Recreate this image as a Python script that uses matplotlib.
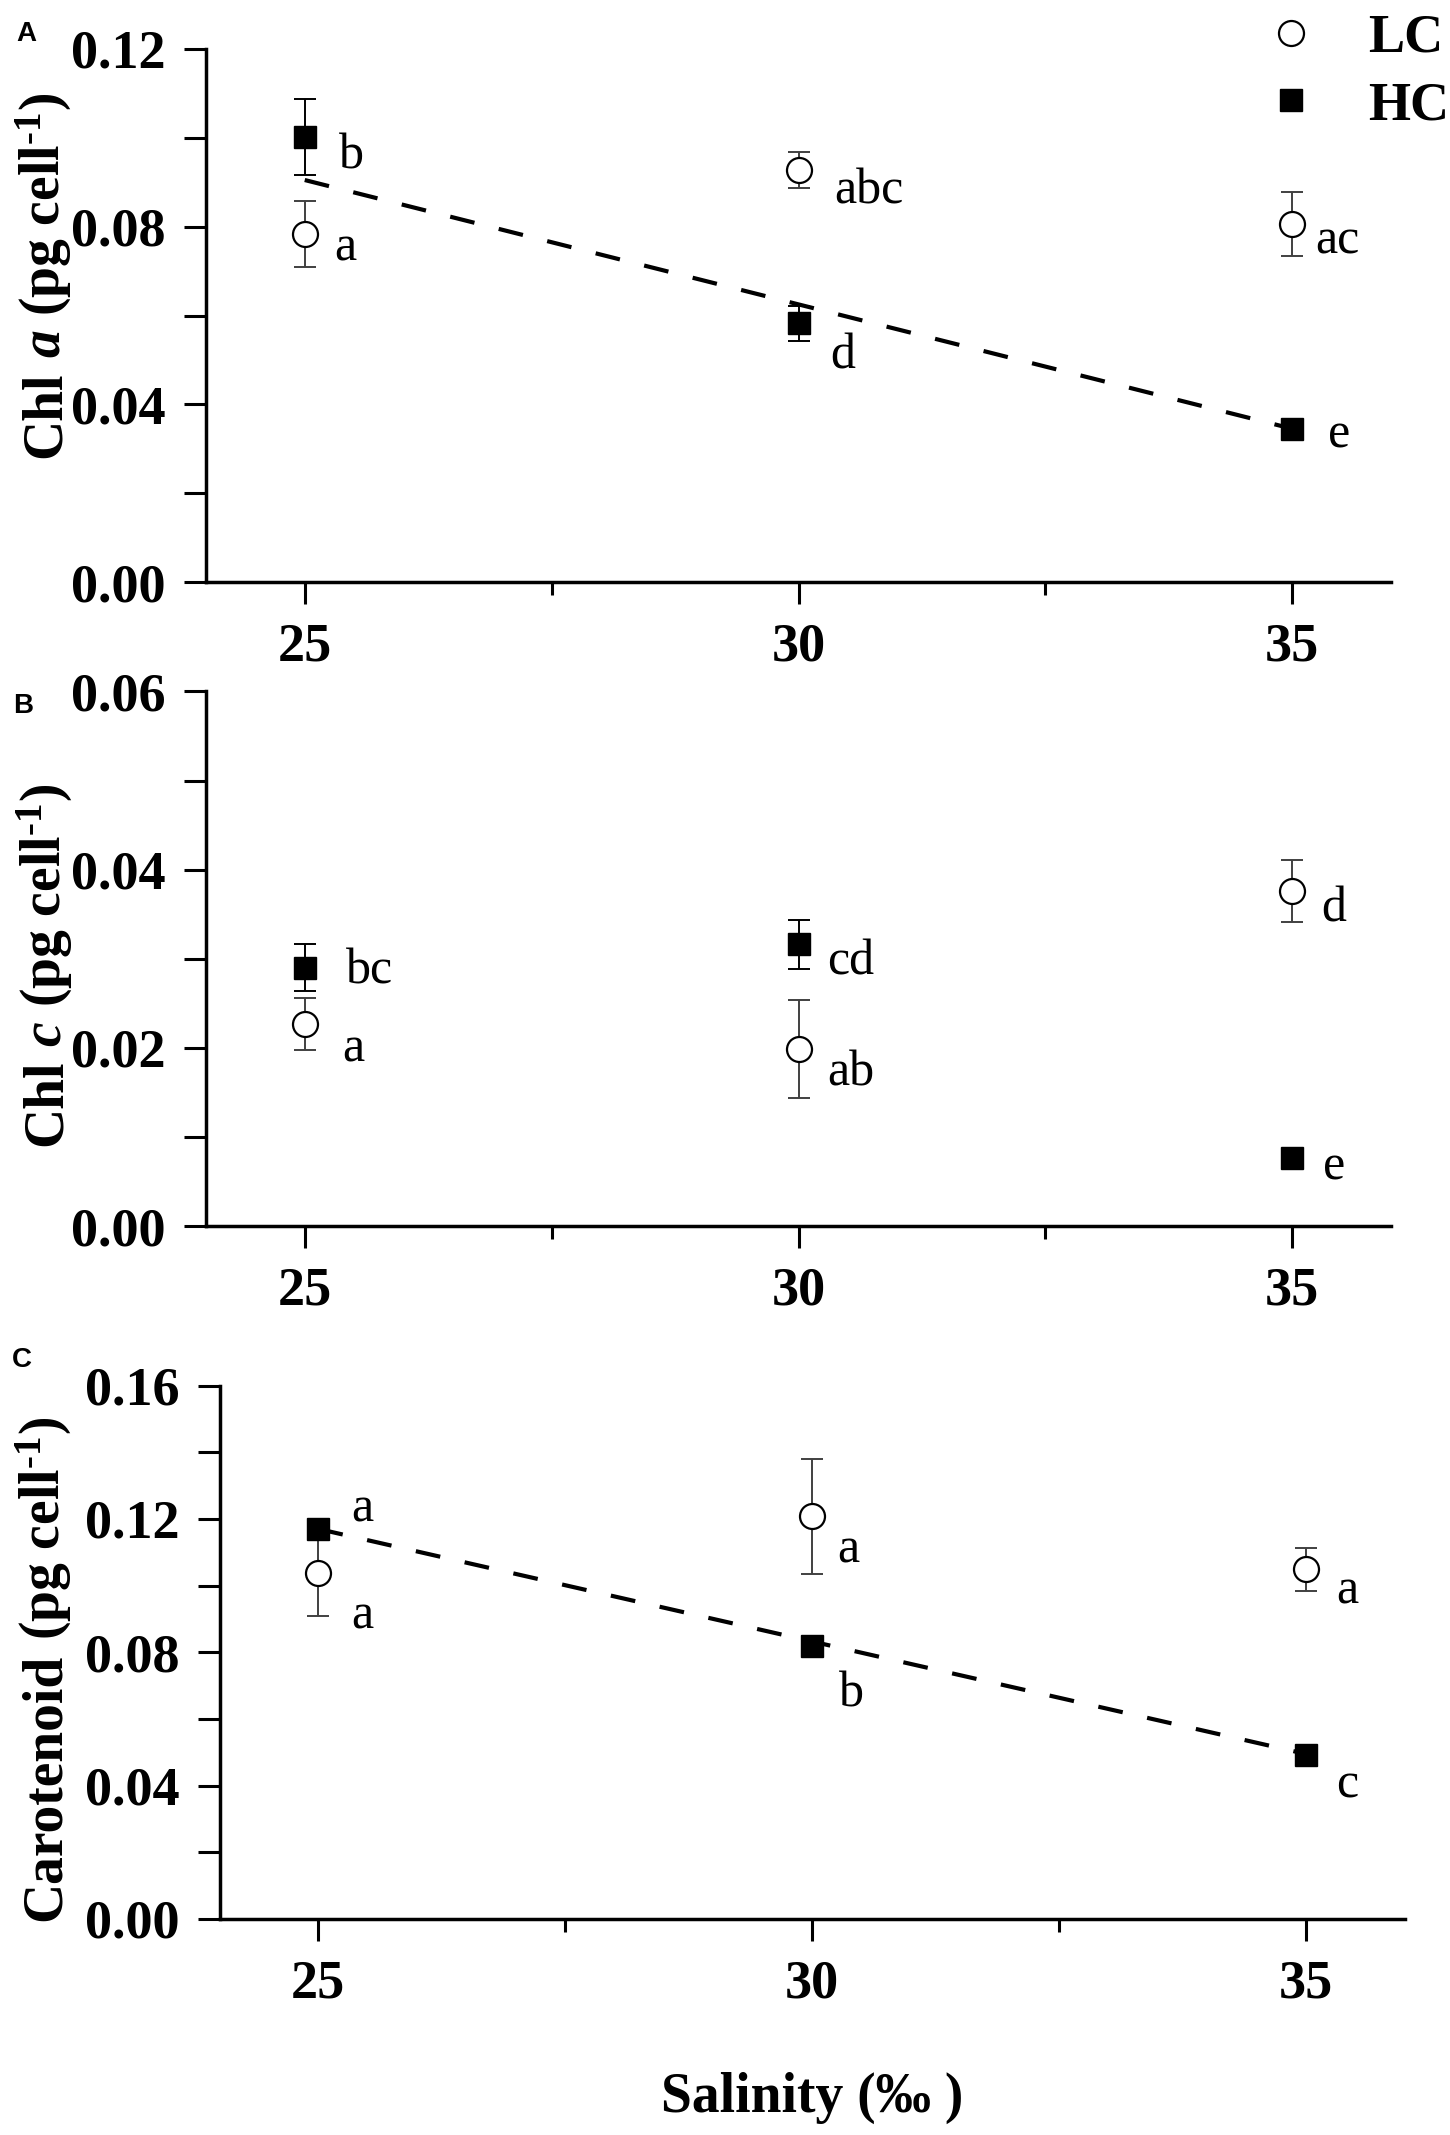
import matplotlib
matplotlib.use('Agg')
import matplotlib.pyplot as plt
from matplotlib.ticker import MultipleLocator
from matplotlib.transforms import IdentityTransform

plt.rcParams['font.family'] = 'Liberation Serif'
plt.rcParams['mathtext.fontset'] = 'custom'
plt.rcParams['mathtext.rm'] = 'Liberation Serif:bold'
plt.rcParams['mathtext.it'] = 'Liberation Serif:italic:bold'
plt.rcParams['mathtext.bf'] = 'Liberation Serif:bold'

# data
salinity = [25, 30, 35]

chla_lc = [0.0783, 0.0927, 0.0806]
chla_lc_err = [0.0074, 0.0040, 0.0072]
chla_hc = [0.1002, 0.0582, 0.0344]
chla_hc_err = [0.0085, 0.0040, 0.0010]
chla_fit = [0.0905, 0.0345]
chla_lc_letters = ['a', 'abc', 'ac']
chla_hc_letters = ['b', 'd', 'e']

chlc_lc = [0.0227, 0.0199, 0.0376]
chlc_lc_err = [0.0029, 0.0055, 0.0035]
chlc_hc = [0.0290, 0.0316, 0.0076]
chlc_hc_err = [0.0026, 0.0028, 0.0008]
chlc_lc_letters = ['a', 'ab', 'd']
chlc_hc_letters = ['bc', 'cd', 'e']

car_lc = [0.1037, 0.1208, 0.1049]
car_lc_err = [0.0129, 0.0172, 0.0065]
car_hc = [0.1171, 0.0820, 0.0493]
car_hc_err = [0.0020, 0.0015, 0.0010]
car_fit = [0.1170, 0.0495]
car_lc_letters = ['a', 'a', 'a']
car_hc_letters = ['a', 'b', 'c']

W, H = 1450, 2135
fig = plt.figure(figsize=(W / 100, H / 100), dpi=100)


def box(l, t, r, b):
    return [l / W, 1 - b / H, (r - l) / W, (b - t) / H]


def panel(ax, lc, lc_err, hc, hc_err, fit, ymax, ystep,
          lc_letters, hc_letters, lc_off, hc_off):
    if fit is not None:
        ax.plot([salinity[0], salinity[-1]], fit, color='black', lw=3,
                ls=(0, (6, 6)), zorder=1)
    ax.errorbar(salinity, lc, yerr=lc_err, fmt='none', ecolor='#404040',
                elinewidth=1.4, capsize=8, capthick=1.4, zorder=2)
    ax.errorbar(salinity, hc, yerr=hc_err, fmt='none', ecolor='black',
                elinewidth=1.4, capsize=8, capthick=1.4, zorder=2)
    l1, = ax.plot(salinity, lc, 'o', ms=18, mfc='white', mec='black',
                  mew=1.6, zorder=3, label='LC')
    l2, = ax.plot(salinity, hc, 's', ms=16, mfc='black', mec='black',
                  zorder=3, label='HC')
    for x, y, t, o in zip(salinity, lc, lc_letters, lc_off):
        ax.annotate(t, (x, y), xytext=o, textcoords='offset pixels',
                    ha='left', va='center', fontsize=36)
    for x, y, t, o in zip(salinity, hc, hc_letters, hc_off):
        ax.annotate(t, (x, y), xytext=o, textcoords='offset pixels',
                    ha='left', va='center', fontsize=36)

    ax.set_xlim(24, 36)
    ax.set_ylim(0, ymax)
    ax.set_xticks(salinity)
    ax.xaxis.set_minor_locator(MultipleLocator(2.5))
    ax.yaxis.set_major_locator(MultipleLocator(ystep))
    ax.yaxis.set_minor_locator(MultipleLocator(ystep / 2))
    ax.yaxis.set_major_formatter(lambda v, p: f'{v:.2f}')
    for s in ['top', 'right']:
        ax.spines[s].set_visible(False)
    for s in ['left', 'bottom']:
        ax.spines[s].set_linewidth(2.5)
    ax.tick_params(which='both', direction='out', width=2.2)
    ax.tick_params(axis='y', which='both', length=16, pad=13)
    ax.tick_params(axis='x', which='major', length=16, pad=13)
    ax.tick_params(axis='x', which='minor', length=9)
    ax.tick_params(labelsize=39)
    for lab in ax.get_xticklabels() + ax.get_yticklabels():
        lab.set_fontweight('bold')
    return l1, l2


ax_a = fig.add_axes(box(206, 49, 1391, 582))
ax_b = fig.add_axes(box(206, 691.5, 1391, 1226))
ax_c = fig.add_axes(box(219.6, 1385.6, 1404.6, 1919))

h1, h2 = panel(ax_a, chla_lc, chla_lc_err, chla_hc, chla_hc_err, chla_fit,
               0.12, 0.04, chla_lc_letters, chla_hc_letters,
               [(29, -14), (36, -21), (23, -17)],
               [(34, -19), (32, -33), (36, -6)])
panel(ax_b, chlc_lc, chlc_lc_err, chlc_hc, chlc_hc_err, None,
      0.06, 0.02, chlc_lc_letters, chlc_hc_letters,
      [(38, -25), (29, -25), (29, -18)],
      [(41, -4), (29, -18), (31, -9)])
panel(ax_c, car_lc, car_lc_err, car_hc, car_hc_err, car_fit,
      0.16, 0.04, car_lc_letters, car_hc_letters,
      [(33, -43), (25, -34), (30, -22)],
      [(33, 19), (27, -49), (30, -31)])

fig.legend([h1, h2], ['LC', 'HC'], loc='upper left',
           bbox_to_anchor=(1264 / W, 1 - 14 / H), frameon=False,
           prop={'family': 'Liberation Serif', 'weight': 'bold', 'size': 39},
           handlelength=1.0, handletextpad=0.92, labelspacing=0.32,
           borderpad=0, borderaxespad=0)


def ftext(x, y, s, **kw):
    fig.text(x / W, 1 - y / H, s, ha='center', va='center', **kw)


def ylabel(xbase, yc, pieces, size=40):
    # rotated label built from pieces so the italic letter keeps normal spacing
    r = fig.canvas.get_renderer()
    texts = [fig.text(0, 0, s, rotation=90, rotation_mode='anchor',
                      ha='left', va='baseline', fontsize=size,
                      fontweight='bold', fontstyle=st,
                      transform=IdentityTransform())
             for s, st in pieces]
    lens = [t.get_window_extent(r).height for t in texts]
    gap = 0.25 * size * 100 / 72
    total = sum(lens) + gap * (len(texts) - 1)
    y = (H - yc) - total / 2
    for t, n in zip(texts, lens):
        t.set_position((xbase, y))
        y += n + gap


unit = r'(pg cell$^{\text{-1}}$)'
ylabel(60, 275, [('Chl', 'normal'), ('a', 'italic'), (unit, 'normal')])
ylabel(61, 965, [('Chl', 'normal'), ('c', 'italic'), (unit, 'normal')])
ylabel(60, 1669, [('Carotenoid', 'normal'), (unit, 'normal')])

ftext(812, 2098, 'Salinity (‰ )', fontsize=40, fontweight='bold')

for x, y, s in [(26, 34, 'A'), (23, 706, 'B'), (22, 1360, 'C')]:
    ftext(x, y, s, family='Liberation Sans', fontweight='bold', fontsize=20)

fig.savefig('out.png', dpi=100)
